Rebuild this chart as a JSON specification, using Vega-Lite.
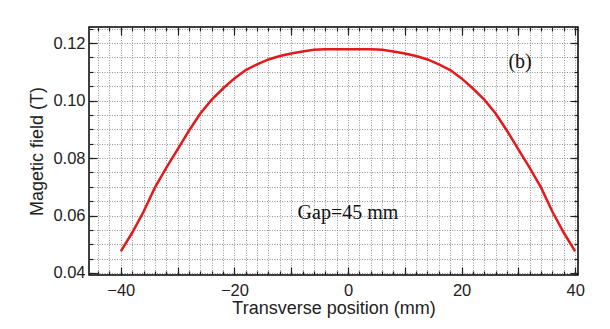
{
  "$schema": "https://vega.github.io/schema/vega-lite/v6.json",
  "width": 489,
  "height": 248,
  "autosize": {"type": "none"},
  "padding": {"left": 89, "top": 27, "right": 32, "bottom": 54},
  "background": "white",
  "config": {
    "view": {"stroke": "black", "strokeWidth": 1.5},
    "axis": {"domain": false, "labelFont": "Liberation Sans", "titleFont": "Liberation Sans", "labelColor": "#222", "titleColor": "#222", "tickColor": "#222", "grid": false, "tickWidth": 1.2}
  },
  "datasets": {
    "curve": [
      {"x": -40, "b": 0.0475},
      {"x": -38, "b": 0.0540},
      {"x": -36, "b": 0.0613},
      {"x": -34, "b": 0.0697},
      {"x": -32, "b": 0.0766},
      {"x": -30, "b": 0.0830},
      {"x": -28, "b": 0.0895},
      {"x": -26, "b": 0.0955},
      {"x": -24, "b": 0.1003},
      {"x": -22, "b": 0.1042},
      {"x": -20, "b": 0.1077},
      {"x": -18, "b": 0.1106},
      {"x": -16, "b": 0.1126},
      {"x": -14, "b": 0.1143},
      {"x": -12, "b": 0.1155},
      {"x": -10, "b": 0.1164},
      {"x": -8, "b": 0.1171},
      {"x": -6, "b": 0.1177},
      {"x": -4, "b": 0.1179},
      {"x": 0, "b": 0.1179},
      {"x": 4, "b": 0.1179},
      {"x": 6, "b": 0.1177},
      {"x": 8, "b": 0.1171},
      {"x": 10, "b": 0.1164},
      {"x": 12, "b": 0.1155},
      {"x": 14, "b": 0.1143},
      {"x": 16, "b": 0.1126},
      {"x": 18, "b": 0.1106},
      {"x": 20, "b": 0.1077},
      {"x": 22, "b": 0.1042},
      {"x": 24, "b": 0.1003},
      {"x": 26, "b": 0.0955},
      {"x": 28, "b": 0.0895},
      {"x": 30, "b": 0.0830},
      {"x": 32, "b": 0.0766},
      {"x": 34, "b": 0.0697},
      {"x": 36, "b": 0.0613},
      {"x": 38, "b": 0.0540},
      {"x": 40, "b": 0.0475}
    ],
    "notes": [
      {"x": 0, "b": 0.0609, "label": "Gap=45 mm"},
      {"x": 30.3, "b": 0.1134, "label": "(b)"}
    ]
  },
  "layer": [
    {
      "data": {"name": "curve"},
      "mark": {"type": "line", "opacity": 0},
      "encoding": {
        "x": {"field": "x", "type": "quantitative", "scale": {"domain": [-45.6, 40.5], "nice": false, "zero": false},
          "axis": {"orient": "bottom", "values": [-44,-42,-40,-38,-36,-34,-32,-30,-28,-26,-24,-22,-20,-18,-16,-14,-12,-10,-8,-6,-4,-2,0,2,4,6,8,10,12,14,16,18,20,22,24,26,28,30,32,34,36,38,40], "labels": false, "tickSize": -4, "grid": true, "gridDash": [1, 1.5], "gridColor": "#777", "gridWidth": 0.8, "title": null}},
        "y": {"field": "b", "type": "quantitative", "scale": {"domain": [0.0393, 0.1256], "nice": false, "zero": false},
          "axis": {"orient": "left", "values": [0.04,0.045,0.05,0.055,0.06,0.065,0.07,0.075,0.08,0.085,0.09,0.095,0.1,0.105,0.11,0.115,0.12,0.125], "labels": false, "tickSize": -4, "grid": true, "gridDash": [1, 1.5], "gridColor": "#777", "gridWidth": 0.8, "title": null}}
      }
    },
    {
      "data": {"name": "curve"},
      "mark": {"type": "line", "opacity": 0},
      "encoding": {
        "x": {"field": "x", "type": "quantitative",
          "axis": {"orient": "bottom", "values": [-40,-30,-20,-10,0,10,20,30,40], "labelExpr": "datum.value % 20 === 0 ? datum.label : ''", "tickSize": -8, "labelPadding": 15, "labelFontSize": 16.5, "title": "Transverse position (mm)", "titleFontSize": 18, "titleFontWeight": "normal", "titlePadding": 1}},
        "y": {"field": "b", "type": "quantitative",
          "axis": {"orient": "left", "values": [0.04,0.06,0.08,0.1,0.12], "format": ".2f", "tickSize": -8, "labelPadding": 12, "labelFontSize": 16.5, "title": "Magetic field (T)", "titleFontSize": 18, "titleFontWeight": "normal", "titlePadding": 6}}
      }
    },
    {
      "data": {"name": "curve"},
      "mark": {"type": "line", "opacity": 0},
      "encoding": {
        "x": {"field": "x", "type": "quantitative",
          "axis": {"orient": "top", "values": [-44,-42,-40,-38,-36,-34,-32,-30,-28,-26,-24,-22,-20,-18,-16,-14,-12,-10,-8,-6,-4,-2,0,2,4,6,8,10,12,14,16,18,20,22,24,26,28,30,32,34,36,38,40], "labels": false, "tickSize": -4, "title": null}},
        "y": {"field": "b", "type": "quantitative",
          "axis": {"orient": "right", "values": [0.04,0.045,0.05,0.055,0.06,0.065,0.07,0.075,0.08,0.085,0.09,0.095,0.1,0.105,0.11,0.115,0.12,0.125], "labels": false, "tickSize": -4, "title": null}}
      }
    },
    {
      "data": {"name": "curve"},
      "mark": {"type": "line", "opacity": 0},
      "encoding": {
        "x": {"field": "x", "type": "quantitative",
          "axis": {"orient": "top", "values": [-40,-30,-20,-10,0,10,20,30,40], "labels": false, "tickSize": -8, "title": null}},
        "y": {"field": "b", "type": "quantitative",
          "axis": {"orient": "right", "values": [0.04,0.06,0.08,0.1,0.12], "labels": false, "tickSize": -8, "title": null}}
      }
    },
    {
      "data": {"name": "notes"},
      "mark": {"type": "text", "font": "Liberation Serif", "fontSize": 20, "color": "#111", "align": "center", "baseline": "middle"},
      "encoding": {
        "x": {"field": "x", "type": "quantitative", "axis": null},
        "y": {"field": "b", "type": "quantitative", "axis": null},
        "text": {"field": "label"}
      }
    },
    {
      "data": {"name": "curve"},
      "mark": {"type": "line", "color": "#e3191c", "strokeWidth": 2.5},
      "encoding": {
        "x": {"field": "x", "type": "quantitative", "axis": null},
        "y": {"field": "b", "type": "quantitative", "axis": null}
      }
    }
  ],
  "resolve": {"axis": {"x": "independent", "y": "independent"}}
}
